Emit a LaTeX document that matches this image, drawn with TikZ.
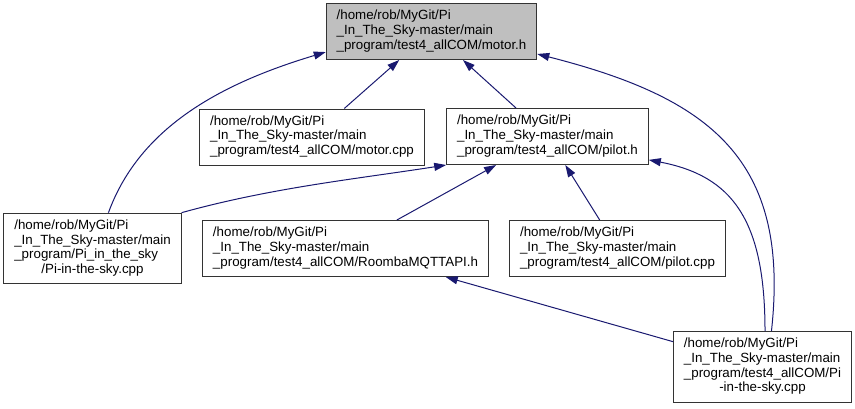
\documentclass[tikz,border=0pt]{standalone}
\usepackage{fontspec}
\setmainfont{Liberation Sans}
\usetikzlibrary{arrows.meta}
\definecolor{edgeblue}{HTML}{191970}
\definecolor{headgray}{HTML}{BFBFBF}
\newcommand{\fname}[1]{\begin{tabular}{@{}l@{}}#1\end{tabular}}
\newcommand{\lastln}[1]{\multicolumn{1}{@{}c@{}}{#1}}
\tikzset{
  file/.style={draw=black!80, fill=white, line width=0.75pt, inner xsep=7.8pt, inner ysep=4.5pt,
    font=\fontsize{10}{11}\selectfont},
  dep/.style={edgeblue, line width=0.75pt, -{Triangle[length=9pt,width=6pt]}}
}
\begin{document}
\begin{tikzpicture}[x=0.75pt,y=-0.75pt]
\useasboundingbox (0,0) rectangle (855,408);
\node[file,fill=headgray] (motorh) at (431.5,31.5) {\fname{/home/rob/MyGit/Pi\\ \_In\_The\_Sky-master/main\\ \_program/test4\_allCOM/motor.h}};
\node[file] (motorcpp) at (312,137) {\fname{/home/rob/MyGit/Pi\\ \_In\_The\_Sky-master/main\\ \_program/test4\_allCOM/motor.cpp}};
\node[file] (pilotH) at (547.5,136.5) {\fname{/home/rob/MyGit/Pi\\ \_In\_The\_Sky-master/main\\ \_program/test4\_allCOM/pilot.h}};
\node[file] (leftPi) at (92.5,248.5) {\fname{/home/rob/MyGit/Pi\\ \_In\_The\_Sky-master/main\\ \_program/Pi\_in\_the\_sky\\ \lastln{/Pi-in-the-sky.cpp}}};
\node[file] (roomba) at (345.5,248.5) {\fname{/home/rob/MyGit/Pi\\ \_In\_The\_Sky-master/main\\ \_program/test4\_allCOM/RoombaMQTTAPI.h}};
\node[file] (pilotcpp) at (617.5,248.5) {\fname{/home/rob/MyGit/Pi\\ \_In\_The\_Sky-master/main\\ \_program/test4\_allCOM/pilot.cpp}};
\node[file] (rightPi) at (762.5,367) {\fname{/home/rob/MyGit/Pi\\ \_In\_The\_Sky-master/main\\ \_program/test4\_allCOM/Pi\\ \lastln{-in-the-sky.cpp}}};
% includes of motor.h
\draw[dep] (motorcpp) -- (motorh);
\draw[dep] (pilotH) -- (motorh);
\draw[dep] (leftPi.66) .. controls +(32,-88) and +(-100,30) .. (motorh.191);
\draw[dep] (rightPi.76) .. controls +(19,-172) and +(173,44) .. (motorh.-12);
% includes of pilot.h
\draw[dep] (leftPi.north east) .. controls +(90,-25) and +(-90,14) .. (pilotH.south west);
\draw[dep] (roomba) -- (pilotH);
\draw[dep] (pilotcpp) -- (pilotH);
\draw[dep] (rightPi.86) .. controls +(0,-112) and +(83,16) .. (pilotH.-13);
% includes of RoombaMQTTAPI.h
\draw[dep] (rightPi) -- (roomba);
\end{tikzpicture}
\end{document}
